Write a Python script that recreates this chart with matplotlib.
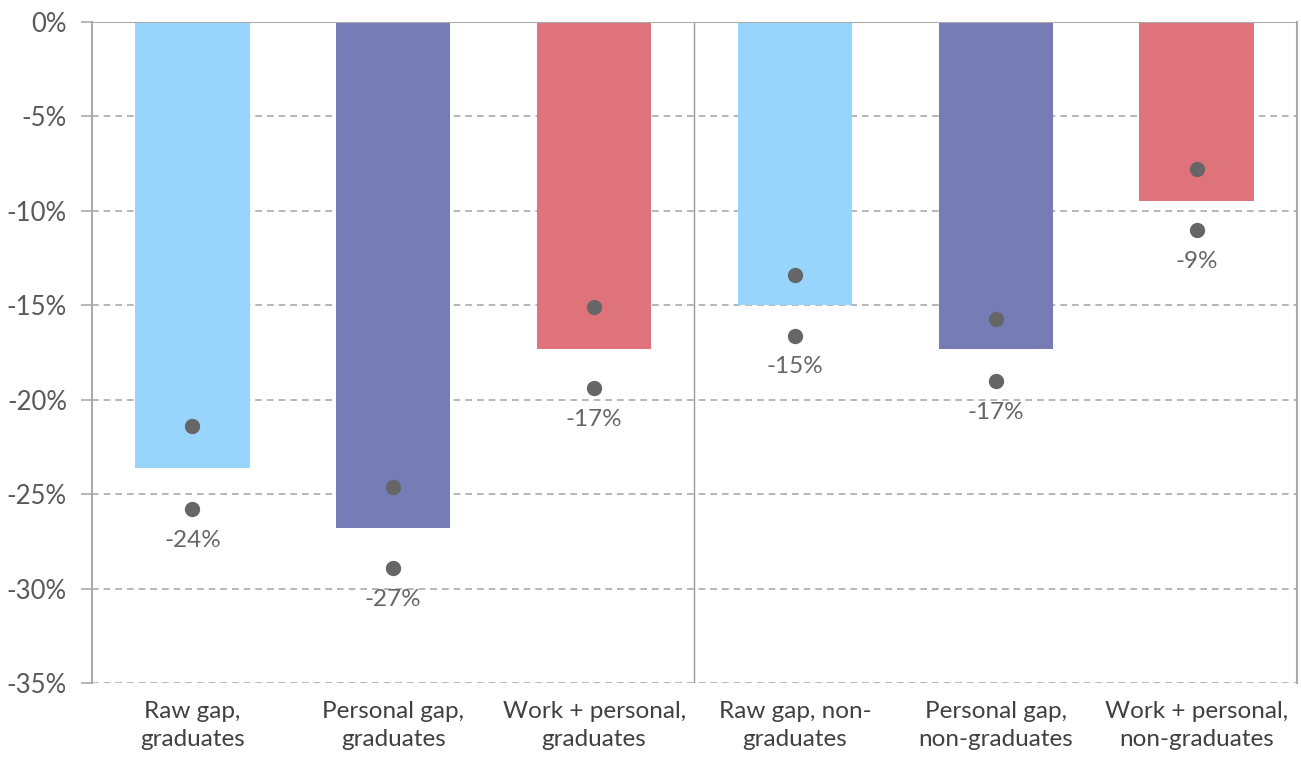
import matplotlib.pyplot as plt
import numpy as np

plt.rcParams['font.family'] = ['Lato', 'DejaVu Sans']

categories = ['Raw gap,\ngraduates', 'Personal gap,\ngraduates', 'Work + personal,\ngraduates',
              'Raw gap, non-\ngraduates', 'Personal gap,\nnon-graduates', 'Work + personal,\nnon-graduates']
gap = [-23.6, -26.8, -17.3, -15.0, -17.3, -9.5]
ci_upper = [-21.4, -24.6, -15.1, -13.4, -15.7, -7.8]
ci_lower = [-25.8, -28.9, -19.4, -16.6, -19.0, -11.0]
labels = ['-24%', '-27%', '-17%', '-15%', '-17%', '-9%']
colors = ['#97D5FD', '#767CB6', '#DF737B', '#97D5FD', '#767CB6', '#DF737B']

fig = plt.figure(figsize=(13.01, 7.58), dpi=100)
ax = fig.add_axes([92 / 1301, 1 - 683 / 758, (1297 - 92) / 1301, (683 - 22) / 758])

x = np.arange(len(categories))
ax.bar(x, gap, width=0.57, color=colors, zorder=2)

# grid lines
for v in range(-5, -40, -5):
    ax.axhline(v, color='#aaaaaa', linestyle=(0, (4, 3)), linewidth=1.2, zorder=1)
ax.axhline(0, color='#aaaaaa', linewidth=1.5, zorder=3)
ax.axvline(2.5, color='#999999', linewidth=1.0, zorder=1)

# confidence interval dots
ax.plot(x, ci_upper, 'o', color='#666666', markersize=10, zorder=4)
ax.plot(x, ci_lower, 'o', color='#666666', markersize=10, zorder=4)
for xi, lo, lab in zip(x, ci_lower, labels):
    ax.text(xi, lo - 1.1, lab, ha='center', va='top', fontsize=17.5, color='#666666')

ax.set_xlim(-0.5, 5.5)
ax.set_ylim(-35, 0)
ax.set_yticks(range(0, -40, -5))
ax.set_yticklabels([f'{v}%' for v in range(0, -40, -5)])
ax.set_xticks(x)
ax.set_xticklabels(categories, fontsize=17.5, color='#404040', linespacing=1.4)
ax.tick_params(axis='x', length=0, pad=13)
ax.tick_params(axis='y', labelsize=18.5, labelcolor='#595959', length=8, color='#aaaaaa', width=1.2, pad=10)

for s in ['top', 'bottom']:
    ax.spines[s].set_visible(False)
for s in ['left', 'right']:
    ax.spines[s].set_color('#aaaaaa')
    ax.spines[s].set_linewidth(1.5)

fig.savefig('out.png', dpi=100)
